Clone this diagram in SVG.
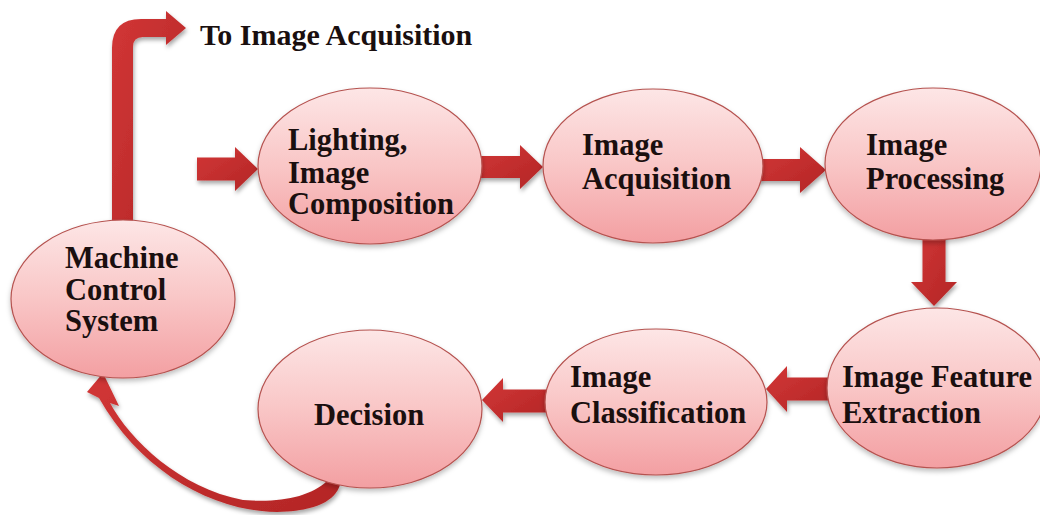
<svg xmlns="http://www.w3.org/2000/svg" width="1040" height="515" viewBox="0 0 1040 515">
<defs>
<linearGradient id="nodeFill" x1="0" y1="0" x2="0" y2="1">
<stop offset="0" stop-color="#fde6e6"/>
<stop offset="0.5" stop-color="#f9c6c6"/>
<stop offset="1" stop-color="#f39fa2"/>
</linearGradient>
<linearGradient id="arrowFill" x1="0" y1="0" x2="1" y2="1">
<stop offset="0" stop-color="#d23636"/>
<stop offset="1" stop-color="#b32626"/>
</linearGradient>
<filter id="nodeShadow" x="-10%" y="-10%" width="120%" height="130%">
<feDropShadow dx="0" dy="3" stdDeviation="2.5" flood-color="#000" flood-opacity="0.25"/>
</filter>
<filter id="arrowShadow" x="-20%" y="-20%" width="140%" height="150%">
<feDropShadow dx="1" dy="3" stdDeviation="2" flood-color="#000" flood-opacity="0.35"/>
</filter>
</defs>
<style>
.node ellipse { fill: url(#nodeFill); stroke: #b5524f; stroke-width: 1.2; filter: url(#nodeShadow); }
.lbl { font-family: "Liberation Serif", "Times New Roman", serif; font-weight: bold; font-size: 30.5px; fill: #1a0f0f; }
.conn { fill: url(#arrowFill); filter: url(#arrowShadow); }
</style>
<rect width="1040" height="515" fill="#ffffff"/>

<g id="connectors">
<path class="conn" d="M 112 222 L 112 48 Q 112 19 141 19 L 166 19 L 166 11 L 186 28 L 166 45 L 166 37 L 143 37 Q 133 37 133 47 L 133 222 Z"/>
<polygon class="conn" points="197,157.5 235,157.5 235,147 258,169 235,191 235,180.5 197,180.5"/>
<polygon class="conn" points="470,156 520,156 520,145 543,167 520,189 520,178 470,178"/>
<polygon class="conn" points="755,159 800,159 800,147 826,170 800,193 800,181 755,181"/>
<polygon class="conn" points="922.5,230 945.5,230 945.5,282 957,282 934,306 911,282 922.5,282"/>
<polygon class="conn" points="835,377.5 787,377.5 787,366 766,389 787,412 787,400.5 835,400.5"/>
<polygon class="conn" points="550,389.5 503,389.5 503,378 482,400 503,422 503,412.5 550,412.5"/>
<path class="conn" d="M 327 481 L 340 485 C 335 500 318 511 277 512 C 210 511 140 470 99 398 L 87 392 L 103 373 L 119 406 L 110 403 C 130 440 180 488 243 500 C 280 503 310 497 327 481 Z"/>
</g>

<g id="node-lighting" class="node">
<ellipse cx="370" cy="166" rx="112" ry="78"/>
<text class="lbl" x="288" y="150">Lighting,</text>
<text class="lbl" x="288" y="183">Image</text>
<text class="lbl" x="288" y="214">Composition</text>
</g>
<g id="node-acquisition" class="node">
<ellipse cx="653" cy="166" rx="110" ry="77"/>
<text class="lbl" x="582" y="155">Image</text>
<text class="lbl" x="582" y="189">Acquisition</text>
</g>
<g id="node-processing" class="node">
<ellipse cx="933" cy="164" rx="108" ry="76"/>
<text class="lbl" x="866" y="155">Image</text>
<text class="lbl" x="866" y="189">Processing</text>
</g>
<g id="node-feature" class="node">
<ellipse cx="937" cy="388" rx="110" ry="80"/>
<text class="lbl" x="842" y="387">Image Feature</text>
<text class="lbl" x="842" y="423">Extraction</text>
</g>
<g id="node-classification" class="node">
<ellipse cx="656" cy="402" rx="111" ry="73"/>
<text class="lbl" x="570" y="387">Image</text>
<text class="lbl" x="570" y="423">Classification</text>
</g>
<g id="node-decision" class="node">
<ellipse cx="370" cy="409" rx="112" ry="79"/>
<text class="lbl" x="314" y="425">Decision</text>
</g>
<g id="node-machine" class="node">
<ellipse cx="123" cy="299" rx="112" ry="79"/>
<text class="lbl" x="65" y="268">Machine</text>
<text class="lbl" x="65" y="300">Control</text>
<text class="lbl" x="65" y="331">System</text>
</g>

<text id="label-to-acq" class="lbl" x="200" y="45" style="font-size:30px">To Image Acquisition</text>
</svg>
